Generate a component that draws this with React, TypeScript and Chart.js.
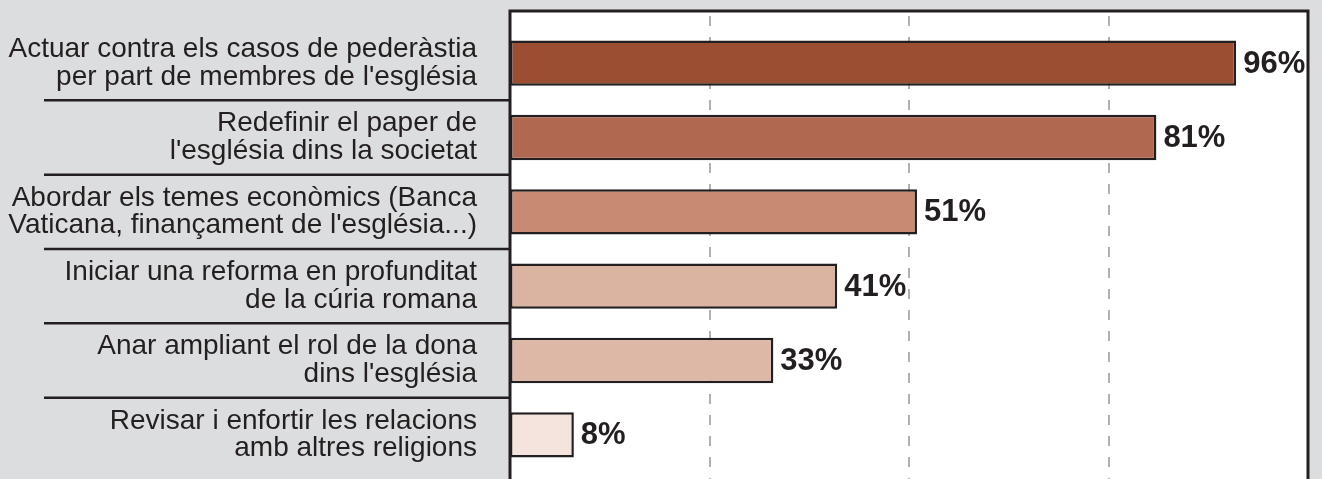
import React, { useEffect, useRef } from "react";
import { Chart, registerables } from "chart.js";

Chart.register(...registerables);

const categories: string[][] = [
  ["Actuar contra els casos de pederàstia", "per part de membres de l'església"],
  ["Redefinir el paper de", "l'església dins la societat"],
  ["Abordar els temes econòmics (Banca", "Vaticana, finançament de l'església...)"],
  ["Iniciar una reforma en profunditat", "de la cúria romana"],
  ["Anar ampliant el rol de la dona", "dins l'església"],
  ["Revisar i enfortir les relacions", "amb altres religions"],
];
// bar lengths as drawn in the picture (the first bar is drawn shorter than its label)
const barValues: number[] = [91, 81, 51, 41, 33, 8];
const valueLabels: string[] = ["96%", "81%", "51%", "41%", "33%", "8%"];
const barColors: string[] = ["#9c4e33", "#b06850", "#c88a72", "#dab4a0", "#ddb8a6", "#f4e4dd"];
const gridValues: number[] = [25, 50, 75];

const FONT = "'Liberation Sans', Arial, Helvetica, sans-serif";
const DARK = "#231f20";

const framePlugin = {
  id: "framePlugin",
  beforeDraw(chart: any) {
    const { ctx, chartArea, width, height } = chart;
    ctx.save();
    ctx.fillStyle = "#dcdddf";
    ctx.fillRect(0, 0, width, height);
    ctx.fillStyle = "#ffffff";
    ctx.fillRect(chartArea.left, 11, chartArea.right - chartArea.left, height - 11);
    ctx.restore();
  },
  beforeDatasetsDraw(chart: any) {
    const { ctx, scales, height } = chart;
    ctx.save();
    ctx.strokeStyle = "#b0b1b4";
    ctx.lineWidth = 2;
    ctx.setLineDash([10, 11]);
    gridValues.forEach((v) => {
      const x = Math.round(scales.x.getPixelForValue(v));
      ctx.beginPath();
      ctx.moveTo(x, 16);
      ctx.lineTo(x, height);
      ctx.stroke();
    });
    ctx.restore();
  },
  afterDatasetsDraw(chart: any) {
    const { ctx, chartArea, scales, height } = chart;
    ctx.save();
    // value labels
    ctx.fillStyle = DARK;
    ctx.font = `bold 31px ${FONT}`;
    ctx.textAlign = "left";
    ctx.textBaseline = "middle";
    const meta = chart.getDatasetMeta(0);
    meta.data.forEach((bar: any, i: number) => {
      ctx.fillText(valueLabels[i], bar.x + 7, bar.y + 1);
    });
    // frame
    ctx.strokeStyle = DARK;
    ctx.lineWidth = 3;
    ctx.beginPath();
    ctx.moveTo(chartArea.left, height);
    ctx.lineTo(chartArea.left, 11);
    ctx.lineTo(chartArea.right, 11);
    ctx.lineTo(chartArea.right, height);
    ctx.stroke();
    // separators between category labels
    ctx.lineWidth = 2.5;
    const y = scales.y;
    for (let i = 0; i < categories.length - 1; i++) {
      const yy = (y.getPixelForValue(i) + y.getPixelForValue(i + 1)) / 2;
      ctx.beginPath();
      ctx.moveTo(44, yy);
      ctx.lineTo(chartArea.left, yy);
      ctx.stroke();
    }
    ctx.restore();
  },
};

export default function App() {
  const canvasRef = useRef<HTMLCanvasElement | null>(null);

  useEffect(() => {
    if (!canvasRef.current) return;
    const chart = new Chart(canvasRef.current, {
      type: "bar",
      data: {
        labels: categories,
        datasets: [
          {
            data: barValues,
            backgroundColor: barColors,
            borderColor: DARK,
            borderWidth: 2.5,
            borderSkipped: false,
            barPercentage: 0.61,
            categoryPercentage: 1,
          },
        ],
      },
      options: {
        indexAxis: "y",
        animation: false,
        responsive: true,
        maintainAspectRatio: false,
        layout: { padding: { top: 26, bottom: 7, right: 14, left: 0 } },
        plugins: {
          legend: { display: false },
          tooltip: { enabled: false },
        },
        scales: {
          x: {
            display: false,
            min: 0,
            max: 100,
          },
          y: {
            type: "category",
            grid: { display: false, drawTicks: false },
            border: { display: false },
            ticks: {
              color: DARK,
              padding: 33,
              font: { family: FONT, size: 28, lineHeight: 0.98 },
            },
            afterFit(scale: any) {
              scale.width = 510;
              scale.paddingTop = 0;
              scale.paddingBottom = 0;
            },
          },
        },
      },
      plugins: [framePlugin],
    });
    return () => chart.destroy();
  }, []);

  return (
    <div style={{ position: "fixed", left: 0, top: 0, width: 1322, height: 479 }}>
      <canvas ref={canvasRef} />
    </div>
  );
}
